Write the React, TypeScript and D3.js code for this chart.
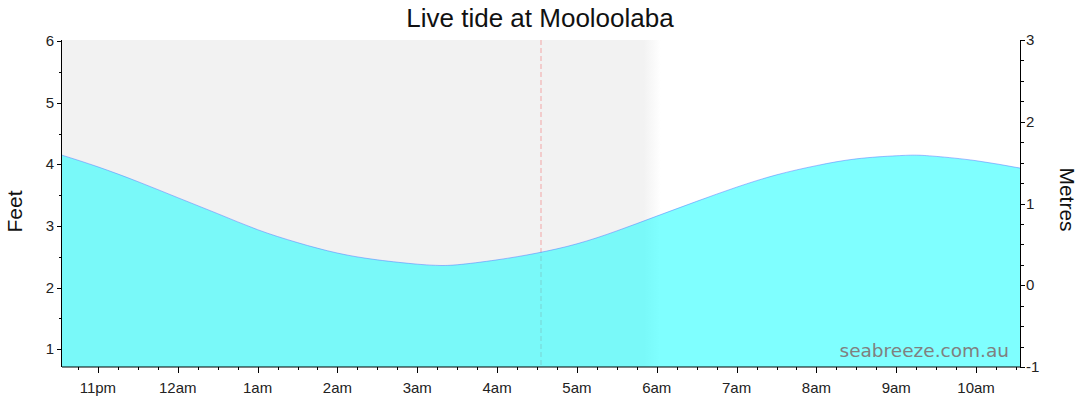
import React, { useEffect, useRef } from 'react';
import * as d3 from 'd3';

// tide readings (feet) through the night
const times = ['22:33', '23:00', '23:30', '00:00', '00:30', '01:00', '01:30', '02:00', '02:30', '03:00', '03:15', '03:30',
  '04:00', '04:30', '05:00', '05:30', '06:00', '06:30', '07:00', '07:30', '08:00', '08:30', '09:00', '09:15', '09:30', '10:00', '10:33'];
const heights = [4.15, 3.96, 3.72, 3.46, 3.2, 2.94, 2.73, 2.56, 2.45, 2.38, 2.36, 2.37,
  2.45, 2.56, 2.71, 2.92, 3.16, 3.4, 3.63, 3.83, 3.98, 4.09, 4.14, 4.15, 4.13, 4.06, 3.94];
const startTime = '22:33';
const endTime = '10:33';
const nowTime = '04:33';
const nightEnd = '05:50';
const dawnEnd = '06:03';
const feetTicks = [1, 2, 3, 4, 5, 6];
const metreTicks = [-1, 0, 1, 2, 3];

// times before noon fall on the next day
const parseTime = (s: string) => {
  const [h, m] = s.split(':').map(Number);
  return new Date(2024, 0, h < 12 ? 2 : 1, h, m);
};

const hourLabel = (d: Date) => {
  const h = d.getHours();
  const h12 = h % 12 === 0 ? 12 : h % 12;
  return `${h12}${h < 12 ? 'am' : 'pm'}`;
};

const W = 1080;
const H = 414;

const App: React.FC = () => {
  const svgRef = useRef<SVGSVGElement>(null);

  useEffect(() => {
    if (!svgRef.current) return;
    const svg = d3.select(svgRef.current);
    svg.selectAll('*').remove();

    const margin = { top: 40, right: 60, bottom: 47, left: 62 };
    const x0 = margin.left;
    const x1 = W - margin.right;
    const y0 = H - margin.bottom;
    const y1 = margin.top;

    const data = times.map((t, i) => ({ t: parseTime(t), v: heights[i] }));

    const x = d3.scaleTime().domain([parseTime(startTime), parseTime(endTime)]).range([x0, x1]);
    const yFeet = d3.scaleLinear().domain([0.71, 6.02]).range([y0, y1]);
    const yMetres = d3.scaleLinear().domain([-1, 3]).range([y0, y1]);

    const font = 'Liberation Sans, Arial, sans-serif';

    // night shading with fade at dawn
    const defs = svg.append('defs');
    const grad = defs.append('linearGradient')
      .attr('id', 'night')
      .attr('gradientUnits', 'userSpaceOnUse')
      .attr('x1', x(parseTime(nightEnd)))
      .attr('x2', x(parseTime(dawnEnd)))
      .attr('y1', 0).attr('y2', 0);
    grad.append('stop').attr('offset', 0).attr('stop-color', '#f2f2f2');
    grad.append('stop').attr('offset', 1).attr('stop-color', '#ffffff');

    svg.append('rect')
      .attr('x', x0).attr('y', y1)
      .attr('width', x(parseTime(dawnEnd)) - x0)
      .attr('height', y0 - y1)
      .attr('fill', 'url(#night)');

    // now line
    const nx = x(parseTime(nowTime));
    svg.append('line')
      .attr('x1', nx).attr('x2', nx)
      .attr('y1', y1).attr('y2', y0)
      .attr('stroke', '#f2a6a6')
      .attr('stroke-width', 1)
      .attr('stroke-dasharray', '5,3');

    // tide area
    const area = d3.area<{ t: Date; v: number }>()
      .x(d => x(d.t))
      .y0(y0)
      .y1(d => yFeet(d.v))
      .curve(d3.curveNatural);
    const line = d3.line<{ t: Date; v: number }>()
      .x(d => x(d.t))
      .y(d => yFeet(d.v))
      .curve(d3.curveNatural);

    svg.append('path').datum(data)
      .attr('d', area)
      .attr('fill', 'rgba(0,255,255,0.5)');
    svg.append('path').datum(data)
      .attr('d', line)
      .attr('fill', 'none')
      .attr('stroke', 'rgba(90,120,255,0.5)')
      .attr('stroke-width', 1);

    // watermark
    svg.append('text')
      .attr('x', x1 - 11).attr('y', y0 - 10)
      .attr('text-anchor', 'end')
      .attr('font-family', 'DejaVu Sans, Verdana, sans-serif')
      .attr('font-size', 18.5)
      .attr('fill', '#808080')
      .text('seabreeze.com.au');

    // x axis
    const xAxis = svg.append('g').attr('transform', `translate(0,${y0})`);
    xAxis.append('line').attr('x1', x0).attr('x2', x1).attr('stroke', '#000');
    const quarters = d3.timeMinute.every(15)!.range(x.domain()[0], x.domain()[1]);
    xAxis.selectAll('line.minor').data(quarters).join('line')
      .attr('class', 'minor')
      .attr('x1', d => Math.round(x(d)) + 0.5).attr('x2', d => Math.round(x(d)) + 0.5)
      .attr('y1', 0).attr('y2', d => d.getMinutes() === 0 ? 6 : 3)
      .attr('stroke', '#000');
    const hours = d3.timeHour.range(x.domain()[0], x.domain()[1]);
    xAxis.selectAll('text').data(hours).join('text')
      .attr('x', d => x(d)).attr('y', 26)
      .attr('text-anchor', 'middle')
      .attr('font-family', font).attr('font-size', 15)
      .attr('fill', '#222')
      .text(hourLabel);

    // left axis (feet)
    const left = svg.append('g');
    left.append('line').attr('x1', x0 - 0.5).attr('x2', x0 - 0.5).attr('y1', y1).attr('y2', y0).attr('stroke', '#000');
    const feetMinor = d3.range(1, 6.01, 0.5);
    left.selectAll('line.t').data(feetMinor).join('line')
      .attr('class', 't')
      .attr('x1', x0).attr('x2', d => x0 - (Number.isInteger(d) ? 5 : 3))
      .attr('y1', d => Math.round(yFeet(d)) + 0.5).attr('y2', d => Math.round(yFeet(d)) + 0.5)
      .attr('stroke', '#000');
    left.selectAll('text').data(feetTicks).join('text')
      .attr('x', x0 - 8).attr('y', d => yFeet(d) + 5)
      .attr('text-anchor', 'end')
      .attr('font-family', font).attr('font-size', 15)
      .attr('fill', '#222')
      .text(d => d);

    // right axis (metres)
    const right = svg.append('g');
    right.append('line').attr('x1', x1 + 0.5).attr('x2', x1 + 0.5).attr('y1', y1).attr('y2', y0).attr('stroke', '#000');
    const metreMinor = d3.range(-1, 3.01, 0.25);
    right.selectAll('line.t').data(metreMinor).join('line')
      .attr('class', 't')
      .attr('x1', x1).attr('x2', d => x1 + (Number.isInteger(d) ? 5 : 4))
      .attr('y1', d => Math.round(yMetres(d)) + 0.5).attr('y2', d => Math.round(yMetres(d)) + 0.5)
      .attr('stroke', '#000');
    right.selectAll('text').data(metreTicks).join('text')
      .attr('x', x1 + 6).attr('y', d => yMetres(d) + 5)
      .attr('text-anchor', 'start')
      .attr('font-family', font).attr('font-size', 15)
      .attr('fill', '#222')
      .text(d => d);

    // axis titles
    svg.append('text')
      .attr('transform', `translate(22,${(y0 + y1) / 2 + 8}) rotate(-90)`)
      .attr('text-anchor', 'middle')
      .attr('font-family', font).attr('font-size', 21)
      .attr('fill', '#111')
      .text('Feet');
    svg.append('text')
      .attr('transform', `translate(1060,${(y0 + y1) / 2 - 4}) rotate(90)`)
      .attr('text-anchor', 'middle')
      .attr('font-family', font).attr('font-size', 21)
      .attr('fill', '#111')
      .text('Metres');

    // title
    svg.append('text')
      .attr('x', 540).attr('y', 27)
      .attr('text-anchor', 'middle')
      .attr('font-family', font).attr('font-size', 26)
      .attr('fill', '#111')
      .text('Live tide at Mooloolaba');
  }, []);

  return (
    <svg ref={svgRef} width={W} height={H}
      style={{ position: 'absolute', left: 0, top: 0, background: '#fff', display: 'block' }} />
  );
};

export default App;
